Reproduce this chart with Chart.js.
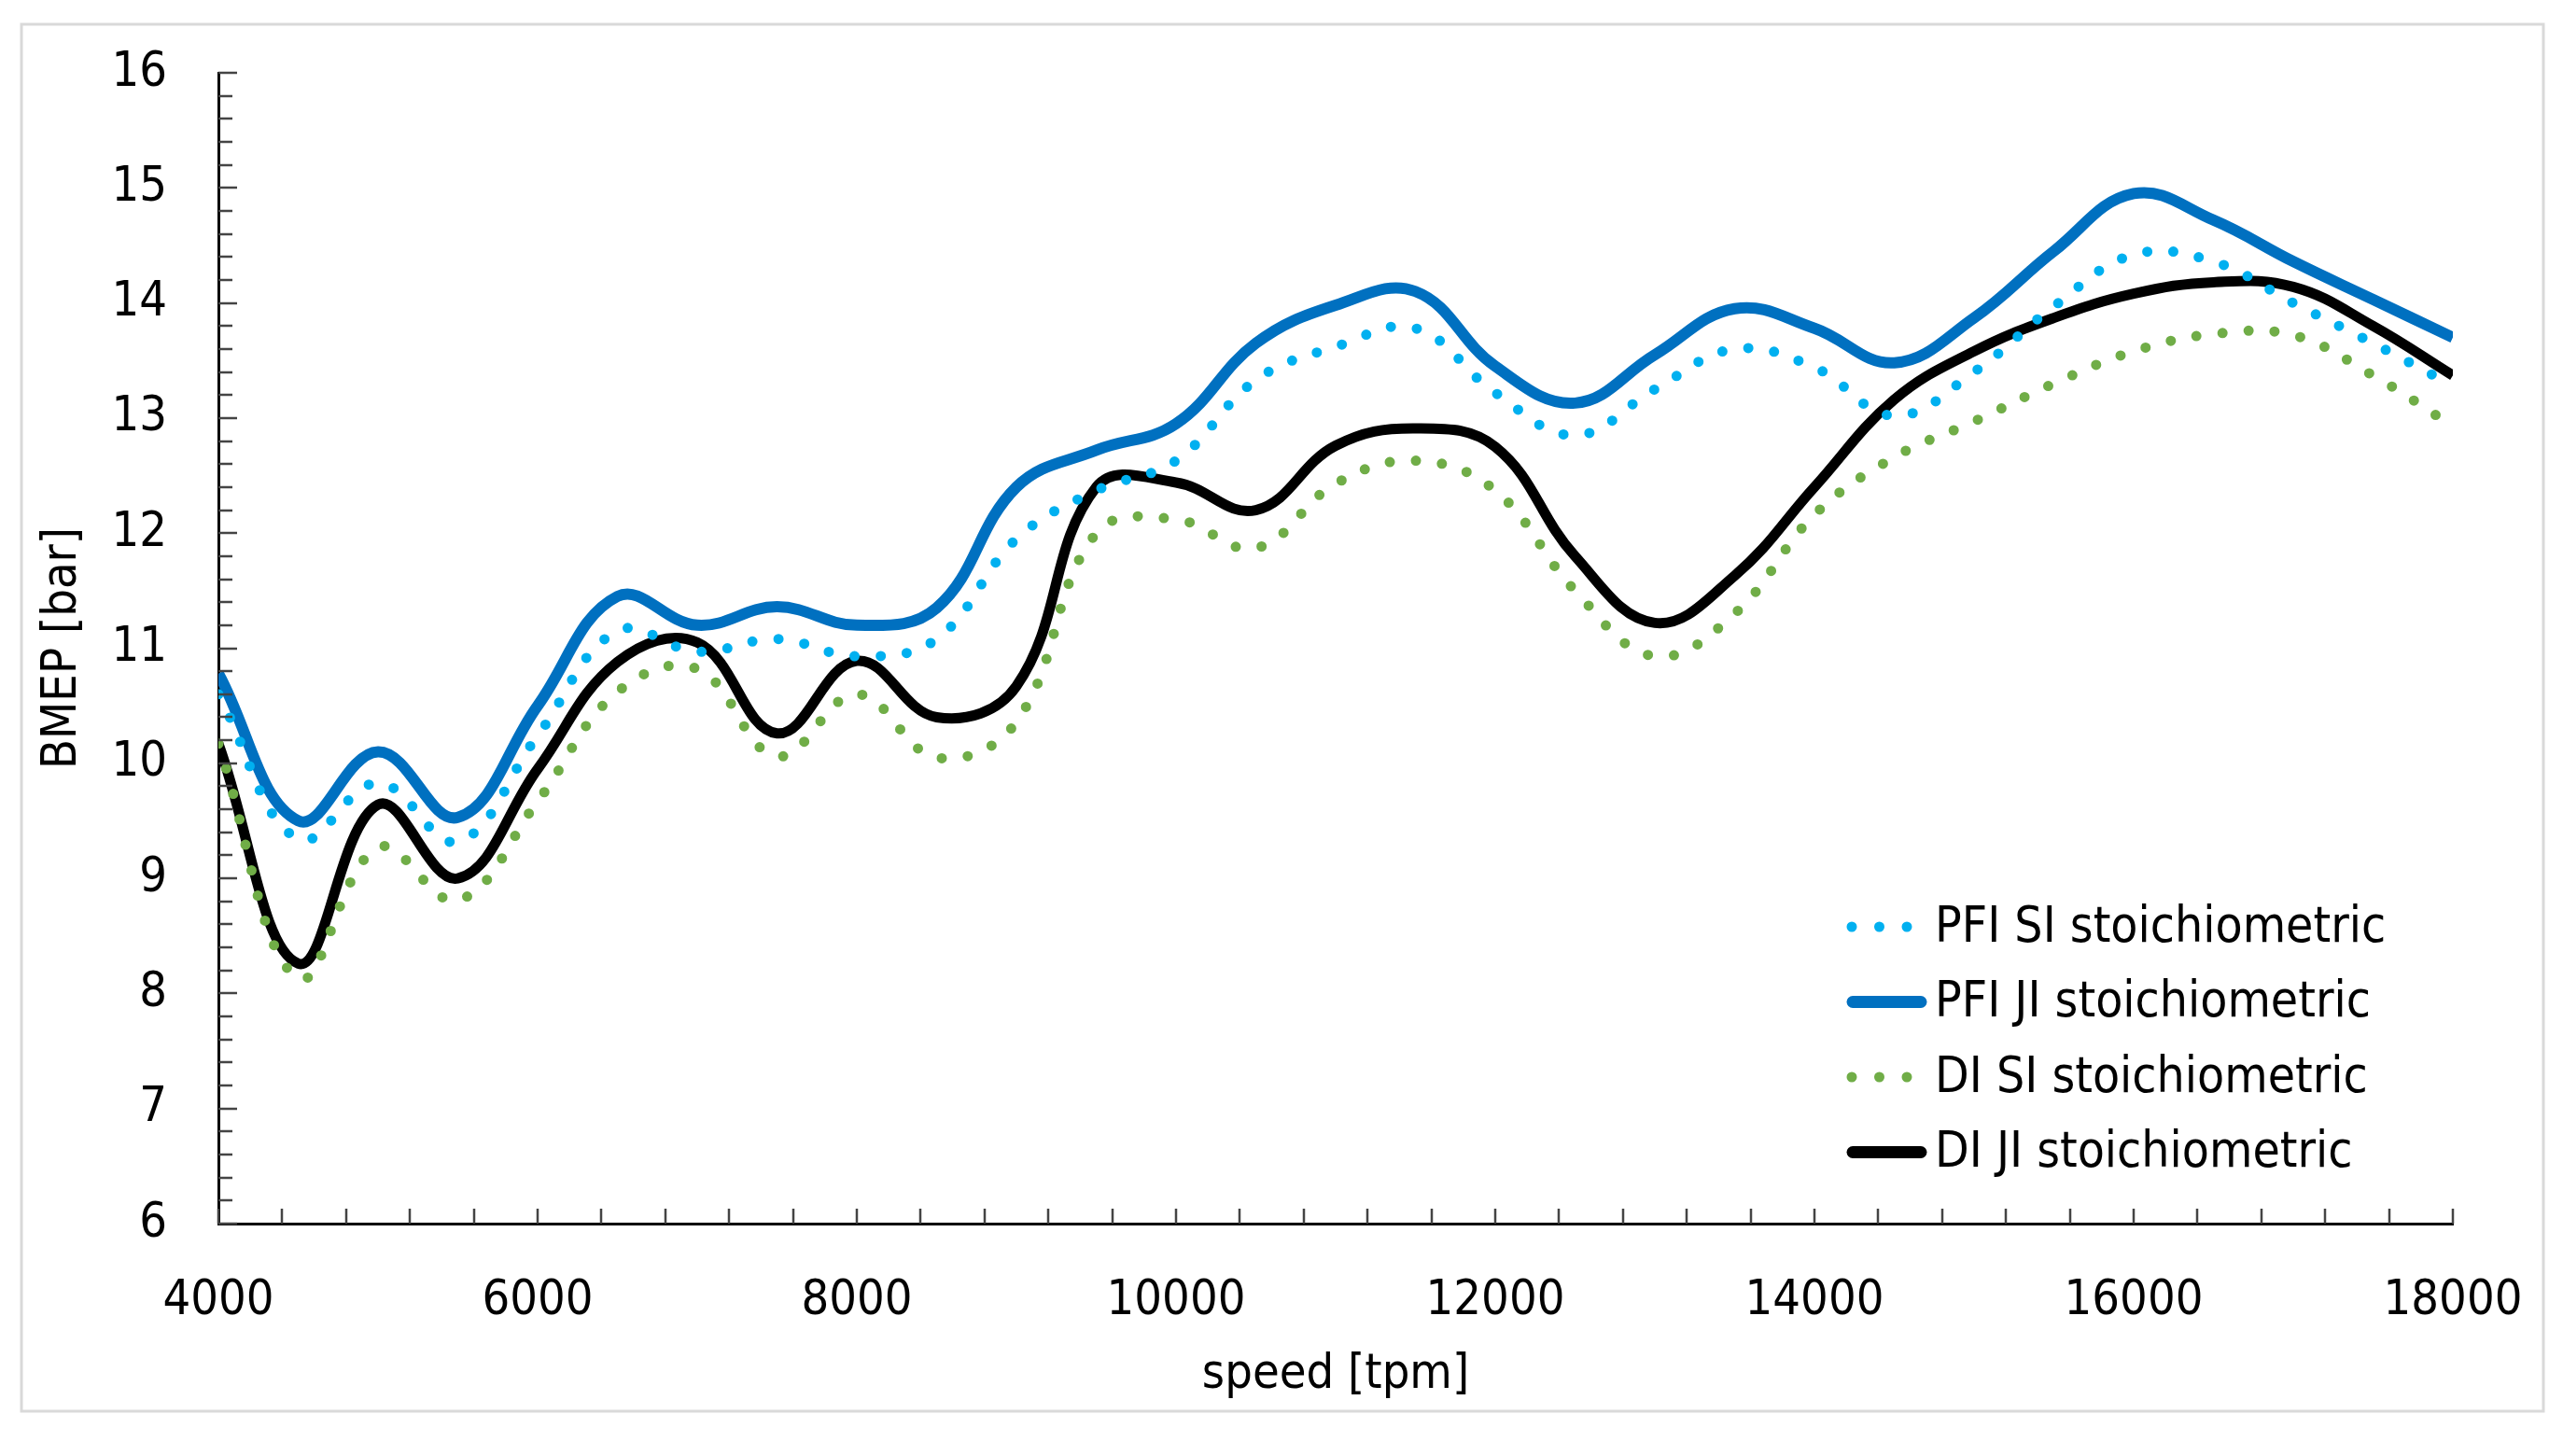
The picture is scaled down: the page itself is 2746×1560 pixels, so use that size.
<!DOCTYPE html>
<html>
<head>
<meta charset="utf-8">
<script src="https://cdn.jsdelivr.net/npm/chart.js@4.4.1/dist/chart.umd.min.js"></script>
<style>
  html, body { margin: 0; padding: 0; background: #fff; }
  #wrap { width: 2746px; height: 1560px; position: relative; }
</style>
</head>
<body>
<div id="wrap"><canvas id="chart"></canvas></div>
<script>
// speed [tpm]
const speeds = [4000, 4500, 5000, 5500, 6000, 6500, 7000, 7500, 8000, 8500,
  9000, 9500, 10000, 10500, 11000, 11500, 12000, 12500, 13000, 13500,
  14000, 14500, 15000, 15500, 16000, 16500, 17000, 17500, 18000];

// BMEP [bar] per series
const pfiSI = [10.6, 9.34, 9.83, 9.32, 10.24, 11.15, 10.97, 11.08, 10.93, 11.08,
  11.95, 12.37, 12.63, 13.33, 13.62, 13.78, 13.22, 12.85, 13.25, 13.6,
  13.44, 13.02, 13.4, 13.97, 14.42, 14.36, 14.0, 13.65, 13.28];
const pfiJI = [10.78, 9.5, 10.1, 9.53, 10.5, 11.45, 11.2, 11.36, 11.2, 11.35,
  12.4, 12.72, 12.95, 13.65, 13.98, 14.1, 13.45, 13.13, 13.55, 13.95,
  13.78, 13.48, 13.87, 14.45, 14.95, 14.72, 14.36, 14.03, 13.7];
const diSI = [10.17, 8.13, 9.27, 8.81, 9.67, 10.62, 10.82, 10.06, 10.6, 10.05,
  10.36, 12.0, 12.12, 11.87, 12.43, 12.63, 12.37, 11.5, 10.93, 11.3,
  12.16, 12.66, 12.97, 13.3, 13.58, 13.73, 13.72, 13.37, 12.93];
const diJI = [10.17, 8.26, 9.64, 9.0, 9.95, 10.88, 11.05, 10.26, 10.89, 10.4,
  10.67, 12.4, 12.44, 12.2, 12.76, 12.91, 12.75, 11.8, 11.22, 11.63,
  12.4, 13.16, 13.58, 13.87, 14.08, 14.18, 14.14, 13.8, 13.37];

const seriesNames = ['PFI SI stoichiometric', 'PFI JI stoichiometric',
  'DI SI stoichiometric', 'DI JI stoichiometric'];

const FONT = "'DejaVu Sans Condensed', 'Liberation Sans Narrow', 'DejaVu Sans', sans-serif";
Chart.defaults.font.family = FONT;
Chart.defaults.color = '#000';

const pts = (vals) => speeds.map((s, i) => ({ x: s, y: vals[i] }));

// white page + light grey frame
const frame = {
  id: 'frame',
  beforeDraw(chart) {
    const ctx = chart.ctx;
    ctx.save();
    ctx.fillStyle = '#fff';
    ctx.fillRect(0, 0, chart.width, chart.height);
    ctx.strokeStyle = '#d9d9d9';
    ctx.lineWidth = 3;
    ctx.strokeRect(23, 26, 2702, 1486);
    ctx.restore();
  }
};

// small tick marks pointing into the plot
const innerTicks = {
  id: 'innerTicks',
  afterDraw(chart) {
    const ctx = chart.ctx;
    const xs = chart.scales.x, ys = chart.scales.y;
    const a = chart.chartArea;
    ctx.save();
    ctx.strokeStyle = '#444';
    ctx.lineWidth = 2.5;
    ctx.beginPath();
    for (let v = 4000; v <= 18000; v += 400) {
      const px = Math.round(xs.getPixelForValue(v));
      ctx.moveTo(px, a.bottom);
      ctx.lineTo(px, a.bottom - 16);
    }
    for (let k = 0; k <= 50; k++) {
      const v = 6 + k * 0.2;
      const py = Math.round(ys.getPixelForValue(v));
      const len = (k % 5 === 0) ? 20 : 15;
      ctx.moveTo(a.left, py);
      ctx.lineTo(a.left + len, py);
    }
    ctx.stroke();
    ctx.restore();
  }
};

// legend inside the plot, lower right
const sideLegend = {
  id: 'sideLegend',
  afterDraw(chart) {
    const ctx = chart.ctx;
    chart.data.datasets.forEach((ds, i) => {
      const y = 993 + i * 80.5;
      ctx.save();
      ctx.strokeStyle = ds.borderColor;
      ctx.lineCap = 'round';
      ctx.beginPath();
      if (ds.borderDash && ds.borderDash.length) {
        ctx.lineWidth = 11;
        ctx.setLineDash([0, 29.5]);
        ctx.moveTo(1984, y);
        ctx.lineTo(2046, y);
      } else {
        ctx.lineWidth = 13;
        ctx.moveTo(1985, y);
        ctx.lineTo(2058, y);
      }
      ctx.stroke();
      ctx.setLineDash([]);
      ctx.fillStyle = '#000';
      ctx.font = '53px ' + FONT;
      ctx.textBaseline = 'middle';
      ctx.fillText(ds.label, 2073, y + 2);
      ctx.restore();
    });
  }
};

new Chart(document.getElementById('chart'), {
  type: 'line',
  data: {
    datasets: [
      { label: seriesNames[0], data: pts(pfiSI), borderColor: '#00b0f0', borderWidth: 11,
        borderDash: [0, 28], borderCapStyle: 'round' },
      { label: seriesNames[1], data: pts(pfiJI), borderColor: '#0070c0', borderWidth: 12 },
      { label: seriesNames[2], data: pts(diSI), borderColor: '#70ad47', borderWidth: 11,
        borderDash: [0, 28], borderCapStyle: 'round' },
      { label: seriesNames[3], data: pts(diJI), borderColor: '#000000', borderWidth: 11 }
    ]
  },
  options: {
    responsive: true,
    maintainAspectRatio: false,
    devicePixelRatio: 1,
    animation: false,
    layout: { padding: { left: 0, right: 118, top: 78, bottom: 0 } },
    elements: {
      point: { radius: 0 },
      line: { tension: 0.4, borderJoinStyle: 'round' }
    },
    plugins: { legend: { display: false }, tooltip: { enabled: false } },
    scales: {
      x: {
        type: 'linear',
        min: 4000, max: 18000,
        afterFit: (s) => { s.height = 249; s.paddingLeft = 0; s.paddingRight = 0; },
        border: { display: true, color: '#000', width: 3 },
        grid: { display: true, drawOnChartArea: false, drawTicks: false, color: 'rgba(0,0,0,0)' },
        ticks: { stepSize: 2000, padding: 52, font: { size: 52 }, color: '#000', maxRotation: 0,
          callback: (v) => String(v) },
        title: { display: true, text: 'speed [tpm]', font: { size: 52 }, color: '#000',
          padding: { top: 0, bottom: 55 } }
      },
      y: {
        min: 6, max: 16,
        afterFit: (s) => { s.width = 234; s.paddingTop = 0; s.paddingBottom = 0; },
        border: { display: true, color: '#000', width: 3 },
        grid: { display: true, drawOnChartArea: false, drawTicks: false, color: 'rgba(0,0,0,0)' },
        ticks: { stepSize: 1, padding: 55, font: { size: 52 }, color: '#000',
          callback: (v) => String(v) },
        title: { display: true, text: 'BMEP [bar]', font: { size: 52 }, color: '#000',
          padding: { top: 36, bottom: 0 } }
      }
    }
  },
  plugins: [frame, innerTicks, sideLegend]
});
</script>
</body>
</html>
